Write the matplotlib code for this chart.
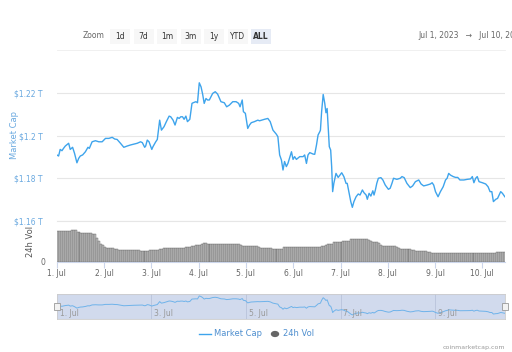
import matplotlib.pyplot as plt
from matplotlib.patches import Rectangle
from matplotlib.lines import Line2D
import matplotlib.patches as mpatches

# horas desde 1 Jul 2023 00:00 e market cap (em trilhões de USD)
horas = [0, 0.9, 1.7, 2.6, 3.4, 4.3, 6.0, 6.8, 8.0, 9.0, 10.2, 11.1, 11.9, 13.1, 14.5,
         15.8, 16.5, 17.9, 19.6, 21.3, 23.0, 24.7, 26.4, 28.1, 29.4, 30.6, 32.3, 34.0,
         35.7, 37.4, 39.1, 40.8, 42.5, 43.4, 44.6, 45.1, 45.9, 46.8, 48.2, 48.8, 50.2,
         51.0, 52.2, 53.1, 54.4, 55.6, 57.0, 57.8, 59.0, 60.0, 61.2, 62.1, 62.9, 63.8,
         64.6, 65.5, 66.3, 67.5, 68.6, 69.2, 70.6, 71.4, 72.3, 73.2, 74.0, 74.8, 75.7,
         76.5, 77.4, 79.1, 80.4, 81.6, 83.3, 85.0, 86.2, 87.6, 89.3, 91.0, 92.3, 93.0,
         94.1, 94.7, 95.7, 96.9, 97.8, 98.7, 100.3, 102.0, 102.9, 105.4, 107.1, 108.3,
         109.7, 111.4, 112.2, 113.1, 114.0, 114.8, 115.6, 116.5, 117.3, 119.1, 119.9,
         120.7, 121.6, 123.3, 125.0, 125.8, 126.7, 127.5, 128.4, 130.1, 130.9, 131.8,
         132.6, 133.5, 133.8, 134.4, 135.2, 136.0, 136.6, 137.2, 137.7, 138.3, 139.0,
         139.5, 140.0, 140.6, 141.7, 142.8, 143.7, 144.6, 145.7, 146.8, 147.4, 148.4,
         149.2, 150.0, 150.8, 151.9, 153.0, 153.9, 155.1, 155.9, 157.0, 157.6, 158.5,
         159.4, 160.4, 161.0, 161.7, 162.4, 163.2, 164.5, 165.5, 166.7, 168.3, 169.2,
         170.1, 170.9, 172.6, 174.3, 175.2, 176.3, 177.7, 179.4, 180.6, 182.0, 183.7,
         184.9, 186.2, 187.9, 189.6, 190.5, 191.3, 192.2, 193.5, 194.7, 196.1, 197.3,
         198.1, 198.9, 199.8, 201.2, 202.4, 203.5, 204.6, 206.6, 208.3, 210.0, 210.9,
         211.7, 212.6, 213.4, 214.3, 216.0, 217.7, 218.9, 219.9, 220.8, 221.6, 222.8,
         223.7, 224.5, 225.3, 226.2, 227.4]
market_cap = [1.1910, 1.1905, 1.1936, 1.1930, 1.1941, 1.1952, 1.1965, 1.1936, 1.1946,
              1.1917, 1.1873, 1.1894, 1.1905, 1.1910, 1.1925, 1.1946, 1.1941, 1.1972,
              1.1977, 1.1972, 1.1972, 1.1988, 1.1988, 1.1993, 1.1985, 1.1983, 1.1965,
              1.1946, 1.1952, 1.1957, 1.1961, 1.1965, 1.1972, 1.1968, 1.1946, 1.1952,
              1.1980, 1.1972, 1.1936, 1.1949, 1.1972, 1.1983, 1.2074, 1.2027, 1.2043,
              1.2067, 1.2093, 1.2090, 1.2074, 1.2051, 1.2087, 1.2082, 1.2090, 1.2090,
              1.2078, 1.2093, 1.2067, 1.2078, 1.2153, 1.2156, 1.2161, 1.2156, 1.2250,
              1.2231, 1.2197, 1.2153, 1.2176, 1.2169, 1.2169, 1.2200, 1.2208, 1.2197,
              1.2161, 1.2156, 1.2137, 1.2145, 1.2161, 1.2161, 1.2153, 1.2137, 1.2169,
              1.2114, 1.2106, 1.2035, 1.2051, 1.2062, 1.2067, 1.2074, 1.2071, 1.2078,
              1.2082, 1.2067, 1.2027, 1.2008, 1.1996, 1.1910, 1.1886, 1.1839, 1.1879,
              1.1855, 1.1870, 1.1925, 1.1889, 1.1902, 1.1889, 1.1902, 1.1902, 1.1910,
              1.1870, 1.1910, 1.1921, 1.1914, 1.1913, 1.1957, 1.2004, 1.2020, 1.2027,
              1.2114, 1.2195, 1.2153, 1.2109, 1.2129, 1.2043, 1.1949, 1.1933, 1.1855,
              1.1737, 1.1776, 1.1823, 1.1804, 1.1815, 1.1826, 1.1808, 1.1776, 1.1776,
              1.1729, 1.1690, 1.1663, 1.1690, 1.1713, 1.1726, 1.1721, 1.1745, 1.1732,
              1.1721, 1.1701, 1.1729, 1.1716, 1.1741, 1.1721, 1.1745, 1.1776, 1.1800,
              1.1803, 1.1792, 1.1768, 1.1748, 1.1753, 1.1776, 1.1800, 1.1795, 1.1800,
              1.1808, 1.1803, 1.1776, 1.1756, 1.1764, 1.1784, 1.1792, 1.1773, 1.1764,
              1.1768, 1.1773, 1.1779, 1.1768, 1.1737, 1.1713, 1.1737, 1.1760, 1.1792,
              1.1800, 1.1823, 1.1815, 1.1808, 1.1804, 1.1804, 1.1792, 1.1792, 1.1795,
              1.1797, 1.1808, 1.1779, 1.1800, 1.1808, 1.1784, 1.1779, 1.1773, 1.1760,
              1.1737, 1.1737, 1.1690, 1.1701, 1.1705, 1.1721, 1.1737, 1.1729, 1.1713]

# volume 24h por hora (bilhões de USD)
volume = [31, 31, 31, 31, 31, 31, 31.5, 32, 32, 32, 30.5, 30, 29.5, 29.3, 29.3, 29.3, 29.3, 29, 28.5, 28, 24, 21, 18.5, 17,
          15.5, 14.5, 14.3, 14.3, 13.8, 13.3, 12.8, 12.5, 12.3, 12.3, 12.3, 12.3, 12.2, 12, 12, 12, 12, 11.8, 11.5, 11.3, 11.3, 11.3, 11.4, 11.8,
          12.3, 12.3, 12.3, 12.5, 12.8, 13.5, 14.3, 14.3, 14.3, 14.3, 14.3, 14.3, 14.3, 14.3, 14.3, 14.5, 14.5, 14.8, 15, 15.5, 16, 16.5, 17, 17,
          17.5, 18.5, 19.3, 19.3, 18.5, 18, 18, 18, 18, 18, 18, 18, 18, 18, 17.7, 17.7, 17.7, 17.7, 17.7, 17.7, 17.7, 16.8, 16, 15.7,
          15.7, 15.7, 15.7, 15.7, 15.7, 15.7, 15.2, 14.5, 14, 14, 14, 14, 14, 13.5, 12.7, 12.7, 12.7, 12.7, 13.5, 14.7, 15, 15.3, 15.3, 15.3,
          15.3, 15.3, 15.3, 15, 14.7, 14.7, 14.7, 14.7, 14.7, 14.7, 14.7, 14.7, 14.7, 15.5, 16.3, 16.3, 17, 18, 18, 18.5, 19.7, 19.7, 19.7, 19.7,
          20.5, 21, 21, 21, 21.5, 22.7, 22.7, 22.7, 22.7, 23, 23, 23, 22.7, 22.7, 22.5, 21, 20, 20, 20, 19, 17.5, 16.3, 16.3, 16.3,
          16.3, 16.3, 16.3, 16.3, 15.5, 14, 13, 13, 13, 13, 13, 13, 12.5, 12, 11.5, 11, 11, 11, 11, 11, 10.5, 10, 9.5, 9.3,
          9.3, 9, 8.7, 8.7, 8.7, 8.7, 8.7, 8.7, 8.7, 8.7, 8.7, 8.7, 8.7, 8.7, 8.7, 8.7, 8.8, 8.8, 8.8, 8.8, 8.7, 8.7, 8.7, 8.7,
          8.7, 8.7, 8.7, 8.7, 8.7, 8.7, 9.3, 10, 10, 10, 10, 10]
horas_volume = list(range(len(volume)))

dias_ticks = [0, 24, 48, 72, 96, 120, 144, 168, 192, 216]
dias_labels = ['1. Jul', '2. Jul', '3. Jul', '4. Jul', '5. Jul', '6. Jul', '7. Jul', '8. Jul', '9. Jul', '10. Jul']
cap_ticks = [1.16, 1.18, 1.2, 1.22]
cap_labels = ['$1.16 T', '$1.18 T', '$1.2 T', '$1.22 T']
botoes = ['1d', '7d', '1m', '3m', '1y', 'YTD', 'ALL']

azul = '#3ea4ec'
azul_txt = '#6aa9e0'
cinza_txt = '#999999'
grade = '#e6e6e6'
x_max = 227.4

fig = plt.figure(figsize=(5.12, 3.52), dpi=100)
plt.rcParams['font.family'] = ['DejaVu Sans']

# Gráfico principal: market cap
ax = fig.add_axes([0.111, 0.373, 0.875, 0.405])
ax.plot(horas, market_cap, color=azul, linewidth=1.0)
ax.set_xlim(0, x_max)
ax.set_ylim(1.16, 1.2272)
ax.set_yticks(cap_ticks)
ax.set_yticklabels(cap_labels, color=azul_txt, fontsize=5.5)
ax.grid(axis='y', color=grade, linewidth=0.8)
ax.set_xticks([])
ax.tick_params(axis='y', length=0, pad=10)
for s in ax.spines.values():
    s.set_visible(False)
ax.set_ylabel('Market Cap', color=azul_txt, fontsize=6)
ax.yaxis.set_label_coords(-0.085, 0.6)

# Volume
axv = fig.add_axes([0.111, 0.2557, 0.875, 0.117])
axv.bar(horas_volume, volume, width=1.0, align='edge', color='#bdbdbd',
        edgecolor='#4a4a4a', linewidth=0.25)
axv.set_xlim(0, x_max)
axv.set_ylim(0, 41.3)
axv.set_yticks([0])
axv.set_yticklabels(['0'], color='#666666', fontsize=5.5)
axv.tick_params(axis='y', length=0, pad=8)
axv.set_xticks(dias_ticks)
axv.set_xticklabels(dias_labels, color='#666666', fontsize=5.5)
axv.tick_params(axis='x', length=4, color='#ccd6eb', pad=1)
for s in axv.spines.values():
    s.set_visible(False)
axv.spines['bottom'].set_visible(True)
axv.spines['bottom'].set_color('#ccd6eb')
axv.axhline(41.3, color=grade, linewidth=0.8, clip_on=False)
axv.set_ylabel('24h Vol', color='#555555', fontsize=6)
axv.yaxis.set_label_coords(-0.048, 0.5)

# Navegador
axn = fig.add_axes([0.111, 0.0929, 0.875, 0.0719])
axn.add_patch(Rectangle((0, 1.1527), x_max, 1.231 - 1.1527, color='#ccd6eb', alpha=0.9, zorder=0))
axn.plot(horas, market_cap, color='#6fb3ea', linewidth=0.7, zorder=2)
axn.set_xlim(0, x_max)
axn.set_ylim(1.1527, 1.231)
axn.set_xticks([])
axn.set_yticks([])
for d, lab in zip(dias_ticks[::2], dias_labels[::2]):
    if d > 0:
        axn.axvline(d, color='#b8c3da', linewidth=0.6, zorder=1)
    axn.text(d + 1.5, 1.157, lab, color=cinza_txt, fontsize=5.5, va='bottom', ha='left', zorder=3)
for s in axn.spines.values():
    s.set_color('#cccccc')
    s.set_linewidth(0.6)
for xh in [0, x_max]:
    axn.add_patch(Rectangle((xh - 1.6, 1.182), 3.2, 0.022, facecolor='#f2f2f2',
                            edgecolor='#999999', linewidth=0.6, clip_on=False, zorder=4))

# Barra superior: botões de zoom
fig.text(83 / 512, 1 - 36 / 352, 'Zoom', color='#666666', fontsize=5.5, va='center')
for i, b in enumerate(botoes):
    x0 = 110 + i * 23.5
    ativo = b == 'ALL'
    fig.patches.append(Rectangle((x0 / 512, 1 - 44 / 352), 20 / 512, 15 / 352,
                                 transform=fig.transFigure,
                                 facecolor='#e6ebf5' if ativo else '#f7f7f7', edgecolor='none'))
    fig.text((x0 + 10) / 512, 1 - 36.5 / 352, b, color='#333333', fontsize=5.5,
             ha='center', va='center', fontweight='bold' if ativo else 'normal')
fig.text(418 / 512, 1 - 36 / 352, 'Jul 1, 2023   \u2192   Jul 10, 2023', color='#666666',
         fontsize=5.5, va='center')
fig.lines.append(Line2D([57 / 512, 505 / 512], [1 - 50 / 352, 1 - 50 / 352],
                        transform=fig.transFigure, color='#eeeeee', linewidth=0.6))

# Legenda
fig.lines.append(Line2D([199 / 512, 211 / 512], [1 - 334 / 352, 1 - 334 / 352],
                        transform=fig.transFigure, color=azul, linewidth=1.0))
fig.text(214 / 512, 1 - 334 / 352, 'Market Cap', color='#4f8fcf', fontsize=6, va='center')
fig.patches.append(mpatches.Circle((275 / 512, 1 - 334 / 352), 3.5 / 512,
                                   transform=fig.transFigure, color='#666666'))
fig.text(283 / 512, 1 - 334 / 352, '24h Vol', color='#4f8fcf', fontsize=6, va='center')
fig.text(505 / 512, 1 - 347 / 352, 'coinmarketcap.com', color='#999999', fontsize=4.5,
         ha='right', va='center')

plt.savefig('out.png', dpi=100)
